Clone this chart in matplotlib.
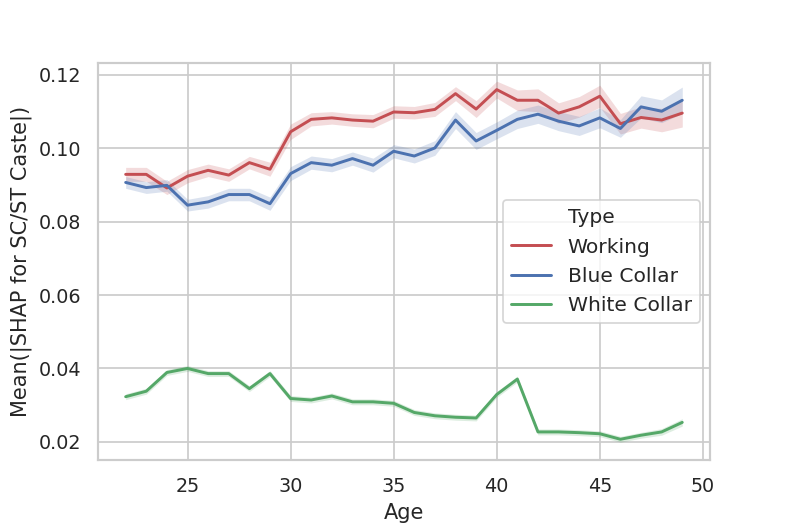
import matplotlib
matplotlib.use('Agg')
import matplotlib.pyplot as plt
import seaborn as sns
from matplotlib.lines import Line2D
import numpy as np

ages = list(range(22, 50))

working = [0.0929, 0.0929, 0.0892, 0.0924, 0.0940, 0.0927, 0.0961, 0.0943,
           0.1045, 0.1079, 0.1083, 0.1077, 0.1074, 0.1099, 0.1097,
           0.1106, 0.1149, 0.1107, 0.1160, 0.1131, 0.1131, 0.1096,
           0.1113, 0.1142, 0.1067, 0.1084, 0.1077, 0.1096]
working_ci = [0.0019, 0.0019, 0.0018, 0.0018, 0.0017, 0.0017, 0.0017, 0.0019,
              0.0021, 0.0018, 0.0017, 0.0017, 0.0018, 0.0017, 0.0017,
              0.0019, 0.0019, 0.0023, 0.0023, 0.0028, 0.0031, 0.0028,
              0.0028, 0.0030, 0.0028, 0.0029, 0.0032, 0.0038]

blue = [0.0907, 0.0893, 0.0899, 0.0845, 0.0854, 0.0874, 0.0874, 0.0849,
        0.0931, 0.0961, 0.0954, 0.0972, 0.0954, 0.0992, 0.0979,
        0.1001, 0.1077, 0.1020, 0.1049, 0.1079, 0.1093, 0.1074,
        0.1061, 0.1083, 0.1054, 0.1113, 0.1101, 0.1131]
blue_ci = [0.0016, 0.0016, 0.0016, 0.0016, 0.0017, 0.0017, 0.0017, 0.0018,
           0.0019, 0.0018, 0.0018, 0.0018, 0.0019, 0.0018, 0.0019,
           0.0020, 0.0023, 0.0023, 0.0023, 0.0025, 0.0025, 0.0026,
           0.0026, 0.0027, 0.0024, 0.0030, 0.0031, 0.0036]

white = [0.0323, 0.0338, 0.0389, 0.0400, 0.0386, 0.0386, 0.0345, 0.0386,
         0.0318, 0.0314, 0.0325, 0.0309, 0.0309, 0.0305, 0.0280,
         0.0271, 0.0267, 0.0265, 0.0329, 0.0371, 0.0227, 0.0227,
         0.0225, 0.0222, 0.0207, 0.0218, 0.0227, 0.0253]
white_ci = [0.0008] * 26 + [0.0009, 0.0010]

sns.set_theme(style='whitegrid', context='notebook')
plt.rcParams['font.family'] = ['DejaVu Sans']

fig, ax = plt.subplots(figsize=(6.312, 4.208), dpi=125)
fig.subplots_adjust(left=0.124, right=0.9, top=0.88, bottom=0.125)

series = [('Working', working, working_ci, '#C44E52'),
          ('Blue Collar', blue, blue_ci, '#4C72B0'),
          ('White Collar', white, white_ci, '#55A868')]

handles = [Line2D([], [], linestyle='none')]
labels = ['Type']
for name, vals, ci, col in series:
    v = np.array(vals)
    c = np.array(ci)
    ln, = ax.plot(ages, v, color=col, lw=1.7, label=name)
    ax.fill_between(ages, v - c, v + c, color=col, alpha=0.2, lw=0)
    handles.append(ln)
    labels.append(name)

ax.set_xlabel('Age')
ax.set_ylabel('Mean(|SHAP for SC/ST Caste|)')
ax.set_xticks([25, 30, 35, 40, 45, 50])
ax.set_yticks([0.02, 0.04, 0.06, 0.08, 0.10, 0.12])
ax.legend(handles, labels, loc='center right', fontsize=11.7)

fig.savefig('out.png', dpi=125)
